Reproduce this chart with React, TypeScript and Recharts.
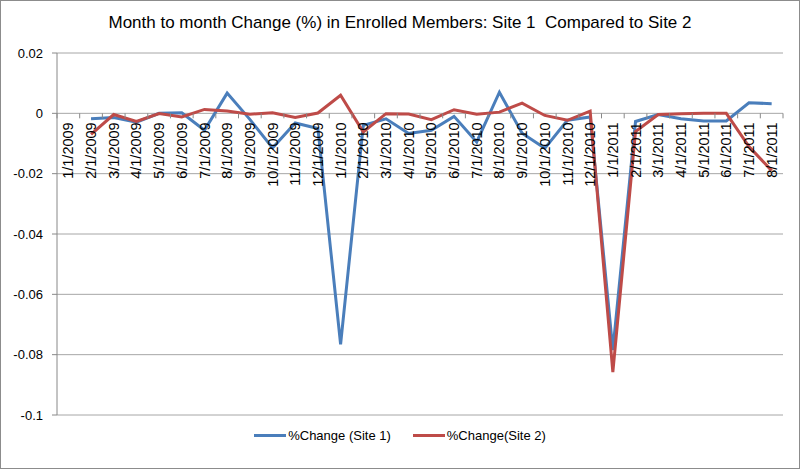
import React from "react";
import { LineChart, Line, XAxis, YAxis, CartesianGrid, Legend } from "recharts";

const months = [
  "1/1/2009","2/1/2009","3/1/2009","4/1/2009","5/1/2009","6/1/2009","7/1/2009","8/1/2009",
  "9/1/2009","10/1/2009","11/1/2009","12/1/2009","1/1/2010","2/1/2010","3/1/2010","4/1/2010",
  "5/1/2010","6/1/2010","7/1/2010","8/1/2010","9/1/2010","10/1/2010","11/1/2010","12/1/2010",
  "1/1/2011","2/1/2011","3/1/2011","4/1/2011","5/1/2011","6/1/2011","7/1/2011","8/1/2011",
];

const site1: (number | null)[] = [
  null, -0.0018, -0.0014, -0.0029, 0.0, 0.0002, -0.0056, 0.0067,
  -0.002, -0.0115, -0.0032, -0.005, -0.0766, -0.004, -0.0018, -0.0067,
  -0.0056, -0.001, -0.0095, 0.007, -0.0066, -0.0116, -0.0023, -0.0012,
  -0.0785, -0.0027, -0.0004, -0.0018, -0.0025, -0.0025, 0.0035, 0.0032,
];

const site2: (number | null)[] = [
  null, -0.007, -0.0004, -0.0027, -0.0001, -0.0012, 0.0013, 0.0008,
  -0.0003, 0.0002, -0.0014, 0.0001, 0.006, -0.0062, -0.0001, -0.0002,
  -0.0021, 0.0012, -0.0003, 0.0004, 0.0034, -0.0007, -0.0023, 0.0007,
  -0.0858, -0.006, -0.0004, -0.0001, 0.0, 0.0, -0.011, -0.019,
];

const yTicks = [-0.1, -0.08, -0.06, -0.04, -0.02, 0, 0.02];
const seriesNames = ["%Change (Site 1)", "%Change(Site 2)"];
const title = "Month to month Change (%) in Enrolled Members: Site 1  Compared to Site 2";

const data = months.map((m, i) => ({ month: m, s1: site1[i], s2: site2[i] }));

const W = 800;
const H = 469;
const M = { top: 53, right: 17, left: 7, bottom: 53 };
const Y_AXIS_W = 50;
const X_AXIS_H = 1;
const FONT = "'Liberation Sans', Arial, sans-serif";
const BLUE = "#4a7ebb";
const RED = "#be4b48";
const GRID = "#a6a6a6";
const AXIS = "#888888";

const plotLeft = M.left + Y_AXIS_W;
const plotW = W - plotLeft - M.right;
const plotTop = M.top;
const plotH = H - M.top - M.bottom - X_AXIS_H;
const yMin = yTicks[0];
const yMax = yTicks[yTicks.length - 1];
const zeroY = plotTop + (plotH * (yMax - 0)) / (yMax - yMin);
const step = plotW / months.length;

const XTick = (props: any) => {
  const { x, index } = props;
  const label = props.payload.value;
  const isLast = index === months.length - 1;
  const ty = zeroY + 9;
  return (
    <g>
      <line x1={x - step / 2} x2={x - step / 2} y1={zeroY} y2={zeroY + 5} stroke={AXIS} />
      {isLast && <line x1={x + step / 2} x2={x + step / 2} y1={zeroY} y2={zeroY + 5} stroke={AXIS} />}
      <text
        x={x}
        y={ty}
        transform={`rotate(-90, ${x}, ${ty})`}
        textAnchor="end"
        dy="0.35em"
        fontSize={14.5}
        fontFamily={FONT}
        fill="#000"
      >
        {label}
      </text>
    </g>
  );
};

const LegendContent = () => (
  <div style={{ display: "flex", justifyContent: "center", alignItems: "center", fontFamily: FONT, fontSize: 13, color: "#000" }}>
    {[BLUE, RED].map((c, i) => (
      <div key={i} style={{ display: "flex", alignItems: "center", marginRight: i === 0 ? 22 : 0 }}>
        <span style={{ display: "inline-block", width: 32, height: 3, background: c, marginRight: 2 }} />
        <span>{seriesNames[i]}</span>
      </div>
    ))}
  </div>
);

export default function App() {
  return (
    <div style={{ position: "fixed", left: 0, top: 0, width: W, height: H, background: "#fff" }}>
      <div
        style={{
          position: "absolute",
          left: 0,
          top: 0,
          width: W,
          height: H,
          boxSizing: "border-box",
          border: "1px solid #8c8c8c",
          pointerEvents: "none",
          zIndex: 2,
        }}
      />
      <div
        style={{
          position: "absolute",
          left: 0,
          top: 13,
          width: W,
          textAlign: "center",
          fontFamily: FONT,
          fontSize: 17,
          color: "#000",
          whiteSpace: "pre",
          zIndex: 1,
        }}
      >
        {title}
      </div>
      <LineChart width={W} height={H} data={data} margin={M}>
        <CartesianGrid vertical={false} stroke={GRID} strokeWidth={1} />
        <XAxis
          dataKey="month"
          height={X_AXIS_H}
          axisLine={false}
          tickLine={false}
          interval={0}
          tick={<XTick />}
          padding={{ left: step / 2, right: step / 2 }}
        />
        <YAxis
          width={Y_AXIS_W}
          domain={[yMin, yMax]}
          ticks={yTicks}
          interval={0}
          allowDataOverflow
          stroke={AXIS}
          tickSize={5}
          tickMargin={9}
          tick={{ fill: "#000", fontSize: 13, fontFamily: FONT }}
          tickFormatter={(v: number) => String(v)}
        />
        <Legend
          verticalAlign="middle"
          align="center"
          layout="horizontal"
          wrapperStyle={{ top: 428, left: 0, width: W }}
          content={<LegendContent />}
        />
        <Line type="linear" dataKey="s1" name={seriesNames[0]} stroke={BLUE} strokeWidth={3} dot={false} isAnimationActive={false} />
        <Line type="linear" dataKey="s2" name={seriesNames[1]} stroke={RED} strokeWidth={3} dot={false} isAnimationActive={false} />
      </LineChart>
    </div>
  );
}
